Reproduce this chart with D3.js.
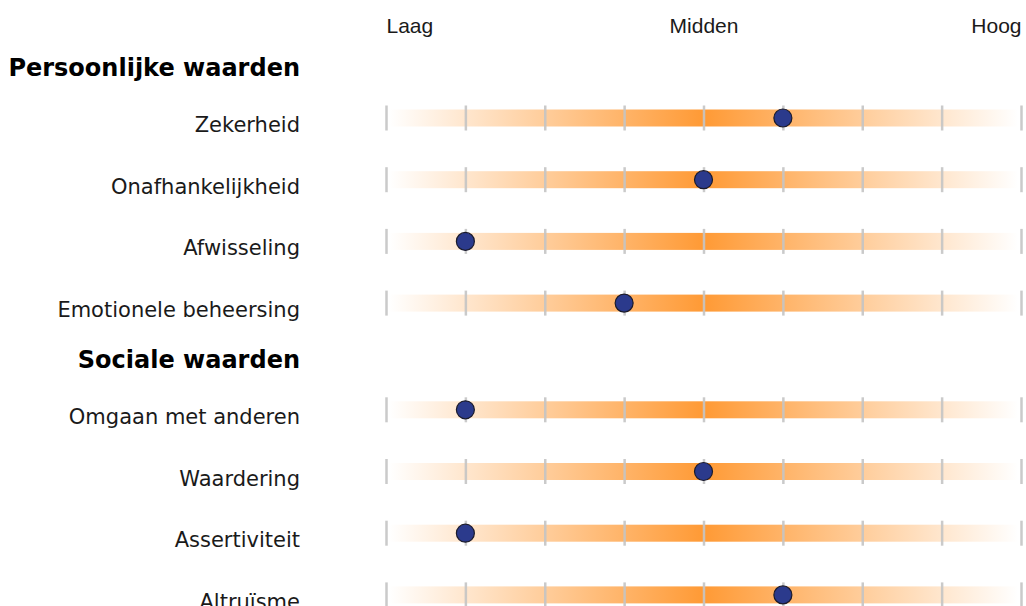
<!DOCTYPE html>
<html>
<head>
<meta charset="utf-8">
<script src="https://cdn.jsdelivr.net/npm/d3@7"></script>
<style>
  body { margin: 0; background: #fff; }
  svg { display: block; font-family: "DejaVu Sans", Verdana, sans-serif; }
  .label { font-size: 21px; fill: #1a1a1a; }
  .header { font-size: 24px; font-weight: bold; fill: #000; }
  .scale text { font-size: 21px; fill: #1a1a1a; }
</style>
</head>
<body>
<script>
var groups = ["Persoonlijke waarden", "Sociale waarden"];
var categories = ["Zekerheid", "Onafhankelijkheid", "Afwisseling", "Emotionele beheersing",
                  "Omgaan met anderen", "Waardering", "Assertiviteit", "Altruïsme"];
var groupOf = [0, 0, 0, 0, 1, 1, 1, 1];
var scores = [5, 4, 1, 3, 1, 4, 1, 5];
var scaleLabels = ["Laag", "Midden", "Hoog"];
var scaleValues = [0, 4, 8];

var width = 1026, height = 606;
var svg = d3.select("body").append("svg").attr("width", width).attr("height", height);

var x = d3.scaleLinear().domain([0, 8]).range([386, 1021]);
var rowY = d3.scaleLinear().domain([0, 1]).range([118, 179.7]);
var groupGap = 45;
function yPos(i) { return rowY(i) + groupOf[i] * groupGap; }

// gradient for the bars
var defs = svg.append("defs");
var grad = defs.append("linearGradient").attr("id", "barGrad")
    .attr("x1", "0%").attr("x2", "100%").attr("y1", "0%").attr("y2", "0%");
grad.append("stop").attr("offset", "0%").attr("stop-color", "#ff9a35").attr("stop-opacity", 0);
grad.append("stop").attr("offset", "50%").attr("stop-color", "#ff9a35").attr("stop-opacity", 1);
grad.append("stop").attr("offset", "100%").attr("stop-color", "#ff9a35").attr("stop-opacity", 0);

// top scale labels
var scaleAxis = d3.axisTop(x).tickValues(scaleValues).tickSize(0)
    .tickFormat(function(d, i) { return scaleLabels[i]; });
var scaleG = svg.append("g").attr("class", "scale").attr("transform", "translate(0,33)").call(scaleAxis);
scaleG.select(".domain").remove();
scaleG.selectAll("text").attr("dy", 0).attr("y", 0)
    .attr("text-anchor", function(d, i) { return i == 0 ? "start" : (i == scaleValues.length - 1 ? "end" : "middle"); });

// group headers
svg.selectAll(".header")
    .data(groups)
    .enter().append("text")
    .attr("class", "header")
    .attr("x", 300)
    .attr("y", function(g, gi) { return yPos(groupOf.indexOf(gi)) - 42; })
    .attr("text-anchor", "end")
    .text(function(d) { return d; });

var rows = svg.selectAll(".row")
    .data(categories)
    .enter().append("g")
    .attr("class", "row")
    .attr("transform", function(d, i) { return "translate(0," + yPos(i) + ")"; });

rows.append("text")
    .attr("class", "label")
    .attr("x", 300)
    .attr("y", 14)
    .attr("text-anchor", "end")
    .text(function(d) { return d; });

rows.append("rect")
    .attr("x", x(0) + 3)
    .attr("y", -8.5)
    .attr("width", x(8) - x(0) - 6)
    .attr("height", 17)
    .attr("fill", "url(#barGrad)");

rows.each(function() {
    var g = d3.select(this);
    var tickAxis = d3.axisBottom(x).ticks(8).tickSize(25).tickFormat("");
    var tg = g.append("g").attr("transform", "translate(0,-12.5)").call(tickAxis);
    tg.select(".domain").remove();
    tg.selectAll("line").attr("stroke", "#c4c4c4").attr("stroke-width", 2.5).attr("stroke-opacity", 0.9);
});

rows.append("circle")
    .attr("cx", function(d, i) { return x(scores[i]); })
    .attr("cy", 0)
    .attr("r", 9)
    .attr("fill", "#2b3a8c")
    .attr("stroke", "#1b1b2b")
    .attr("stroke-width", 1.2);
</script>
</body>
</html>
